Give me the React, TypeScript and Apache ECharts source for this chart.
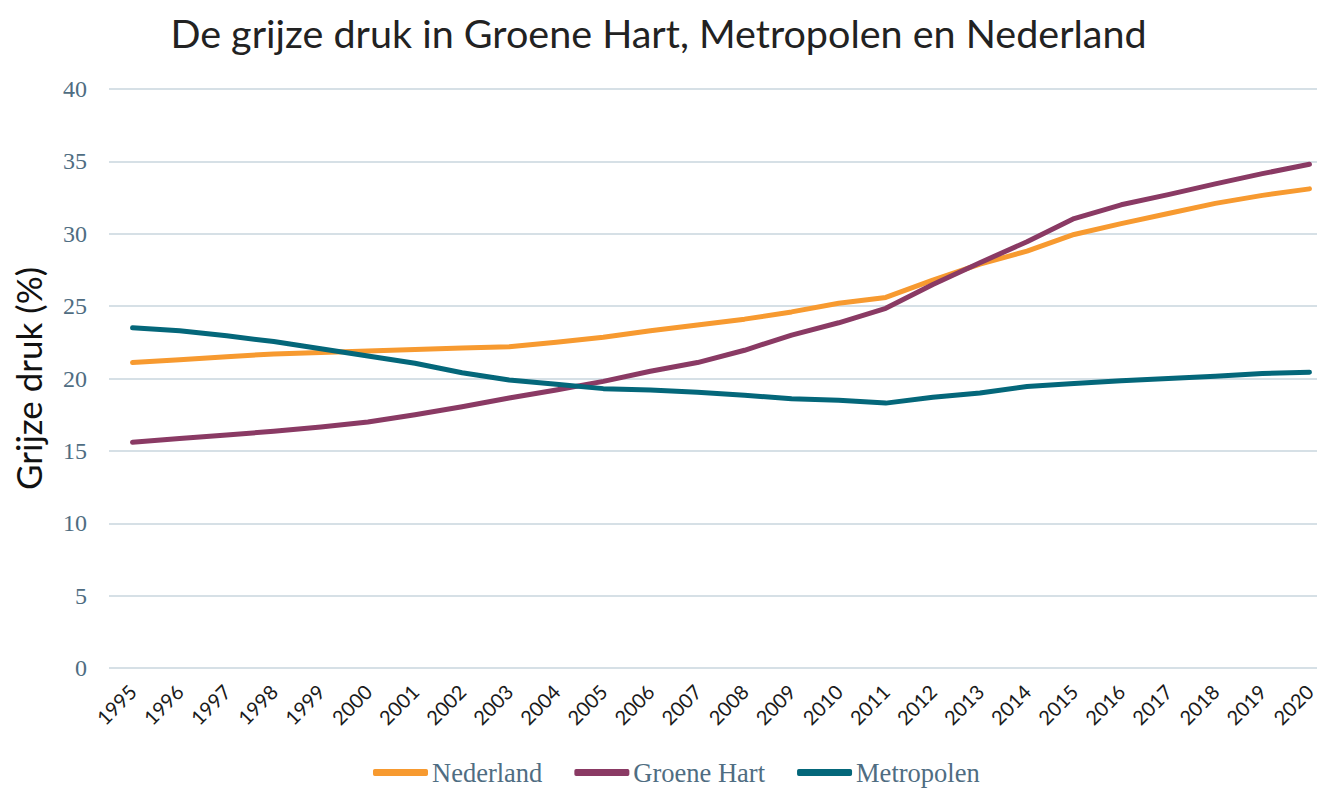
import React, { useEffect, useRef } from "react";
import * as echarts from "echarts";

const years = ["1995","1996","1997","1998","1999","2000","2001","2002","2003","2004","2005","2006","2007","2008","2009","2010","2011","2012","2013","2014","2015","2016","2017","2018","2019","2020"];
const nederland = [21.1, 21.3, 21.5, 21.7, 21.8, 21.9, 22.0, 22.1, 22.2, 22.5, 22.85, 23.3, 23.7, 24.1, 24.6, 25.2, 25.6, 26.8, 27.9, 28.8, 29.95, 30.7, 31.4, 32.1, 32.65, 33.1];
const groeneHart = [15.6, 15.85, 16.1, 16.35, 16.65, 17.0, 17.5, 18.05, 18.65, 19.2, 19.8, 20.5, 21.1, 21.95, 23.0, 23.85, 24.85, 26.5, 28.0, 29.45, 31.05, 32.0, 32.7, 33.45, 34.15, 34.8];
const metropolen = [23.5, 23.3, 22.95, 22.55, 22.05, 21.55, 21.05, 20.4, 19.9, 19.6, 19.3, 19.2, 19.05, 18.85, 18.6, 18.5, 18.3, 18.7, 19.0, 19.45, 19.65, 19.85, 20.0, 20.15, 20.35, 20.43];
const yTicks = { min: 0, max: 40, interval: 5 };

export default function App() {
  const ref = useRef<HTMLDivElement>(null);
  useEffect(() => {
    if (!ref.current) return;
    const chart = echarts.init(ref.current, null, { renderer: "svg" });
    const serif = "Liberation Serif";
    const slate = "#4f6d82";
    chart.setOption({
      animation: false,
      backgroundColor: "#ffffff",
      title: {
        text: "De grijze druk in Groene Hart, Metropolen en Nederland",
        left: "center",
        top: 7,
        textStyle: { fontFamily: "Lato", fontSize: 39.5, fontWeight: "normal", color: "#222222" },
      },
      legend: {
        bottom: -3,
        left: 368,
        itemWidth: 55,
        itemHeight: 7,
        itemGap: 32,
        icon: "roundRect",
        textStyle: { fontFamily: serif, fontSize: 26.5, color: slate, padding: [0, 0, 0, -1] },
        data: ["Nederland", "Groene Hart", "Metropolen"],
      },
      grid: { left: 109, top: 89, bottom: 120, right: -16, containLabel: false, outerBoundsMode: "none" },
      xAxis: {
        type: "category",
        data: years,
        boundaryGap: true,
        axisLine: { show: false },
        axisTick: { show: false },
        axisLabel: { rotate: 45, fontFamily: "Lato", fontSize: 20, color: "#1a1a1a", margin: 20, interval: 0 },
      },
      yAxis: {
        type: "value",
        min: yTicks.min,
        max: yTicks.max,
        interval: yTicks.interval,
        name: "Grijze druk (%)",
        nameLocation: "middle",
        nameGap: 64,
        nameTextStyle: { fontFamily: "Lato", fontSize: 35, color: "#111111" },
        axisLine: { show: false },
        axisTick: { show: false },
        axisLabel: { fontFamily: serif, fontSize: 24, color: slate, margin: 22 },
        splitLine: { lineStyle: { color: "#d6e0e6", width: 2 } },
      },
      series: [
        { name: "Nederland", type: "line", data: nederland, showSymbol: false, symbol: "none", color: "#f79a30", lineStyle: { width: 5, cap: "round", join: "round" } },
        { name: "Groene Hart", type: "line", data: groeneHart, showSymbol: false, symbol: "none", color: "#8a3a64", lineStyle: { width: 5, cap: "round", join: "round" } },
        { name: "Metropolen", type: "line", data: metropolen, showSymbol: false, symbol: "none", color: "#04677a", lineStyle: { width: 5, cap: "round", join: "round" } },
      ],
    });
    return () => chart.dispose();
  }, []);
  return <div ref={ref} style={{ position: "fixed", left: 0, top: 0, width: 1317, height: 788 }} />;
}
